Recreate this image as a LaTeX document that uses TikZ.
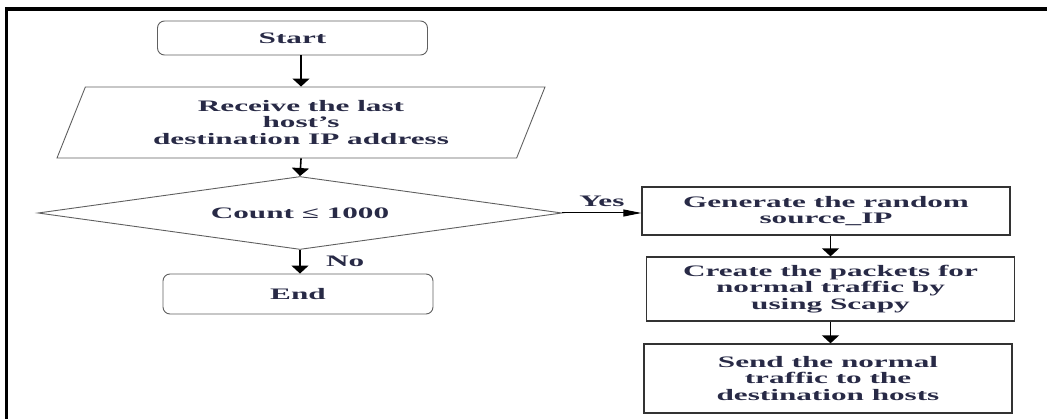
\documentclass[tikz,border=0pt]{standalone}
\usepackage{fontspec}
\setmainfont{Liberation Serif}[FakeStretch=1.95]
\usepackage{xcolor}
\usepackage{tikz}
\usetikzlibrary{arrows.meta}
\usetikzlibrary{positioning}
\usetikzlibrary{shapes.geometric}

\definecolor{flowtext}{RGB}{40,42,70}
\definecolor{flowline}{RGB}{95,95,95}

\tikzset{
  flowfont/.style={font=\fontsize{16}{16.7}\selectfont\bfseries, text=flowtext, align=center},
  terminal/.style={flowfont, draw=flowline, line width=0.9pt, rounded corners=7pt,
    minimum width=270pt, inner sep=0pt},
  inputbox/.style={flowfont, trapezium, trapezium left angle=57.6, trapezium right angle=122.4,
    trapezium stretches body=true, draw=flowline, line width=0.9pt,
    minimum width=488pt, minimum height=71pt, inner sep=0pt},
  decision/.style={flowfont, diamond, aspect=7, draw=flowline, line width=0.9pt,
    minimum width=524pt, minimum height=73pt, inner sep=0pt},
  process/.style={flowfont, draw=black!80, line width=1.3pt, minimum width=368pt, inner sep=0pt},
  varrow/.style={line width=1.6pt, -{Triangle[length=8pt,width=17pt]}},
  harrow/.style={line width=1pt, -{Triangle[length=18pt,width=7pt]}}
}

\begin{document}
\begin{tikzpicture}[x=1pt, y=-1pt]
  \useasboundingbox (0,0) rectangle (1047,419);
  % page frame
  \draw[line width=3.5pt] (6.5,419) -- (6.5,9) -- (1047,9);

  \node[terminal, minimum height=34pt] (start) at (292.5,38) {Start};
  \node[inputbox] (recv) at (301,122.5) {Receive the last\\host’s\\destination IP address};
  \node[decision] (count) at (300,213) {Count ≤ 1000};
  \node[terminal, minimum height=40pt] (stop) at (298,294) {End};

  \node[process, minimum height=48pt] (gen) at (826,211) {Generate the random\\source\_IP};
  \node[process, minimum height=64pt] (create) at (830.5,289) {Create the packets for\\normal traffic by\\using Scapy};
  \node[process, minimum height=69pt] (send) at (828,378.5) {Send the normal\\traffic to the\\destination hosts};

  \draw[varrow] (start.south -| recv.north) -- (recv.north);
  \draw[varrow] (recv.south) -- (count.north);
  \draw[harrow] (count.east) -- (count.east -| gen.west)
    node[midway, above, flowfont, inner sep=2pt, yshift=4pt] {Yes};
  \draw[varrow] (count.south) -- (count.south |- stop.north)
    node[midway, right, flowfont, xshift=22pt] {No};

  \draw[varrow] (gen.south -| create.north) -- (create.north);
  \draw[varrow] (create.south) -- (create.south |- send.north);
\end{tikzpicture}
\end{document}
